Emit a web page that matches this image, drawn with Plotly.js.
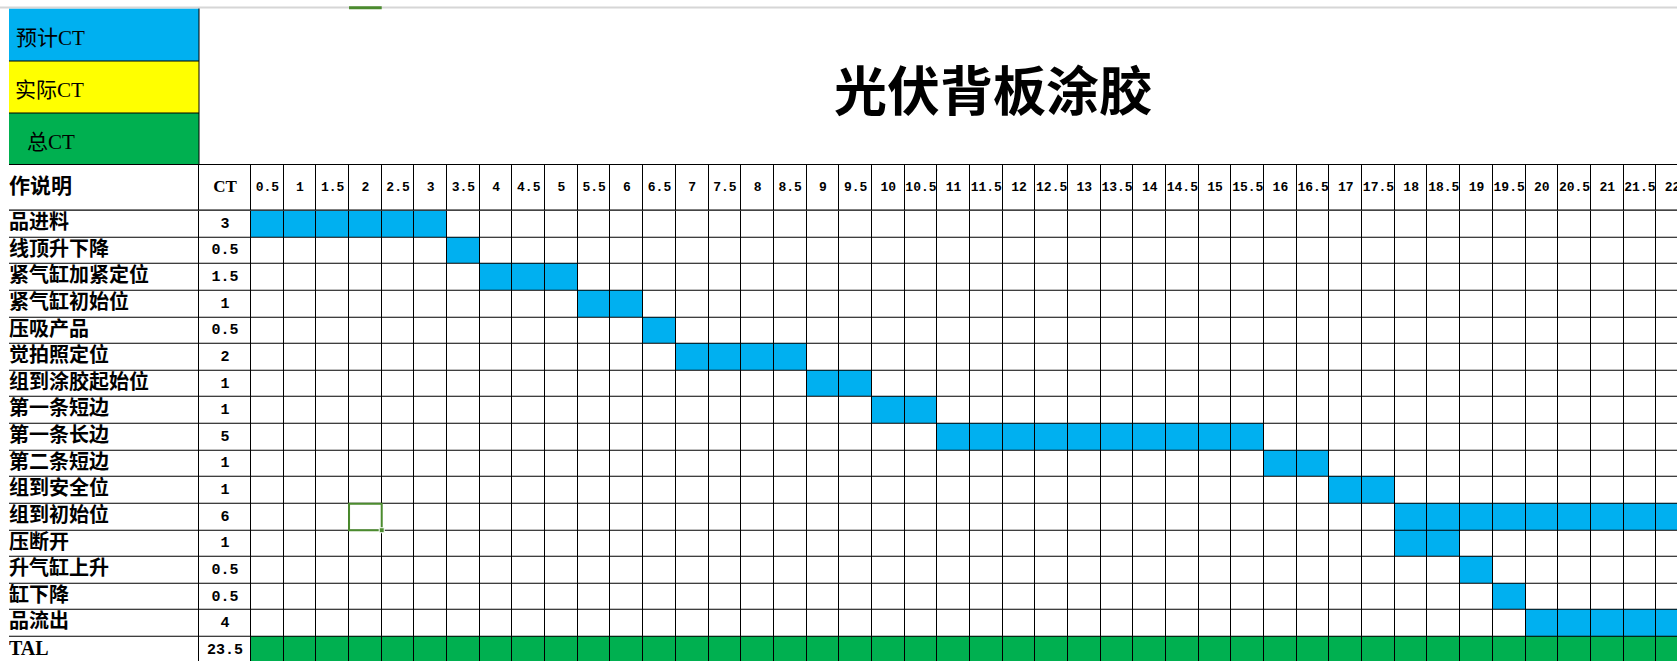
<!DOCTYPE html>
<html><head><meta charset="utf-8">
<script src="https://cdn.plot.ly/plotly-3.0.1.min.js"></script>
<style>html,body{margin:0;padding:0;background:#fff;overflow:hidden}</style>
</head><body><div id="chart" style="width:1677px;height:661px"></div>
<script>
// ---------------- data ----------------
const chartTitle = '光伏背板涂胶';
const legendLabels = ['预计CT', '实际CT', '总CT'];
const headerLabel = '作说明';
const ctHeader = 'CT';
const steps = ['品进料','线顶升下降','紧气缸加紧定位','紧气缸初始位','压吸产品','觉拍照定位','组到涂胶起始位','第一条短边','第一条长边','第二条短边','组到安全位','组到初始位','压断开','升气缸上升','缸下降','品流出'];
const stepCT = [3, 0.5, 1.5, 1, 0.5, 2, 1, 1, 5, 1, 1, 6, 1, 0.5, 0.5, 4];
const stepStart = [0, 3, 3.5, 5, 6, 6.5, 8.5, 9.5, 10.5, 15.5, 16.5, 17.5, 17.5, 18.5, 19, 19.5];
const totalLabel = 'TAL';
const totalCT = 23.5;
const timeLabels = ['0.5','1','1.5','2','2.5','3','3.5','4','4.5','5','5.5','6','6.5','7','7.5','8','8.5','9','9.5','10','10.5','11','11.5','12','12.5','13','13.5','14','14.5','15','15.5','16','16.5','17','17.5','18','18.5','19','19.5','20','20.5','21','21.5','22'];
const selectedRow = '组到初始位';
const selectedTime = '2';

// ---------------- styles ----------------
const BLUE = '#00B0F0', YELLOW = '#FFFF00', GREEN = '#00B050';
const W = 1677, H = 661;
const gridLeft = 251, labelLeft = 9, ctLeft = 199;
const headerTop = 164.5, bodyTop = 210.7, rowPx = 26.63, colPx = 32.68;
const CJK = 'Noto Sans CJK SC';
const NUM = 'Liberation Mono';

const rows = steps.concat([totalLabel]);
const rowCT = stepCT.concat([totalCT]);
const rowStart = stepStart.concat([0]);
const times = timeLabels.map(Number);
const xCenters = times.map(t => t - 0.25);
const eps = 1e-9;
const zBody = rows.map((r, i) => times.map(t => {
  const inside = (t - 0.5 >= rowStart[i] - eps) && (t <= rowStart[i] + rowCT[i] + eps);
  if (!inside) return 0;
  return r === totalLabel ? 2 : 1;
}));

const cs = [[0, '#ffffff'], [0.5, BLUE], [1, GREEN]];
function hm(extra) {
  return Object.assign({type: 'heatmap', colorscale: cs, zmin: 0, zmax: 2, showscale: false,
    xgap: 1, ygap: 1, hoverinfo: 'skip'}, extra);
}

const traces = [
  hm({x: xCenters, y: rows, z: zBody, xaxis: 'x', yaxis: 'y'}),
  hm({x: xCenters, y: [0], z: [times.map(() => 0)], xaxis: 'x', yaxis: 'y2'}),
  hm({x: [0], y: rows, z: rows.map(() => [0]), xaxis: 'x2', yaxis: 'y'}),
  hm({x: [0], y: rows, z: rows.map(() => [0]), xaxis: 'x3', yaxis: 'y'}),
  hm({x: [0], y: [0], z: [[0]], xaxis: 'x2', yaxis: 'y2'}),
  hm({x: [0], y: [0], z: [[0]], xaxis: 'x3', yaxis: 'y2'}),
  // step labels
  {type: 'scatter', mode: 'text', x: steps.map(() => -0.5), y: steps, text: steps,
   xaxis: 'x2', yaxis: 'y', textposition: 'middle right', cliponaxis: true, hoverinfo: 'skip',
   textfont: {family: CJK, size: 20, weight: 700, color: '#000'}},
  {type: 'scatter', mode: 'text', x: [-0.5], y: [totalLabel], text: [totalLabel],
   xaxis: 'x2', yaxis: 'y', textposition: 'middle right', cliponaxis: true, hoverinfo: 'skip',
   textfont: {family: 'Liberation Serif', size: 20, weight: 700, color: '#000'}},
  // CT values
  {type: 'scatter', mode: 'text', x: rows.map(() => 0), y: rows, text: rowCT.map(String),
   xaxis: 'x3', yaxis: 'y', textposition: 'middle center', cliponaxis: true, hoverinfo: 'skip',
   textfont: {family: NUM, size: 15, weight: 700, color: '#000'}},
  // header
  {type: 'scatter', mode: 'text', x: xCenters, y: times.map(() => 0), text: timeLabels,
   xaxis: 'x', yaxis: 'y2', textposition: 'middle center', cliponaxis: true, hoverinfo: 'skip',
   textfont: {family: NUM, size: 13, weight: 700, color: '#000'}},
  {type: 'scatter', mode: 'text', x: [-0.5], y: [0], text: [headerLabel],
   xaxis: 'x2', yaxis: 'y2', textposition: 'middle right', cliponaxis: true, hoverinfo: 'skip',
   textfont: {family: CJK, size: 21, weight: 700, color: '#000'}},
  {type: 'scatter', mode: 'text', x: [0], y: [0], text: [ctHeader],
   xaxis: 'x3', yaxis: 'y2', textposition: 'middle center', cliponaxis: true, hoverinfo: 'skip',
   textfont: {family: 'Liberation Serif', size: 17, weight: 700, color: '#000'}}
];

const hidden = {showgrid: false, zeroline: false, showticklabels: false, showline: false, ticks: '', fixedrange: true};
const px = v => v / W, py = v => 1 - v / H;
const nVisibleRows = (H - bodyTop) / rowPx;

const selIdx = rows.indexOf(selectedRow);
const selT = Number(selectedTime);
const SEL = '#4B8B2E';

const legendColors = [BLUE, YELLOW, GREEN];
const legendTops = [8.5, 61, 113];
const legendBottoms = [61, 113, headerTop];
const legendTextX = [14, 13, 25];

const shapes = [
  {type: 'line', xref: 'paper', yref: 'paper', x0: 0, x1: 1, y0: py(7.5), y1: py(7.5), line: {color: '#d6d6d6', width: 2}},
  {type: 'rect', xref: 'x', yref: 'paper', x0: selT - 0.5, x1: selT, y0: py(9.2), y1: py(6.3), fillcolor: SEL, line: {width: 0}},
];
legendColors.forEach((c, i) => shapes.push({type: 'rect', xref: 'paper', yref: 'paper', layer: 'below',
  x0: px(labelLeft), x1: px(ctLeft), y0: py(legendBottoms[i]), y1: py(legendTops[i]), fillcolor: c, line: {width: 0}}));
[61, 113].forEach(y => shapes.push({type: 'line', xref: 'paper', yref: 'paper', x0: px(labelLeft), x1: px(ctLeft), y0: py(y), y1: py(y), line: {color: '#000', width: 1}}));
shapes.push({type: 'line', xref: 'paper', yref: 'paper', x0: px(ctLeft), x1: px(ctLeft), y0: py(8.5), y1: py(headerTop), line: {color: '#000', width: 1}});
shapes.push({type: 'line', xref: 'paper', yref: 'paper', x0: px(labelLeft), x1: 1, y0: py(headerTop), y1: py(headerTop), line: {color: '#000', width: 1}});
// selected cell
shapes.push({type: 'rect', xref: 'x', yref: 'y', x0: selT - 0.5, x1: selT, y0: selIdx - 0.5, y1: selIdx + 0.5, line: {color: SEL, width: 2}});
shapes.push({type: 'rect', xref: 'x', yref: 'y', x0: selT - 2.5 / (2 * colPx), x1: selT + 2.5 / (2 * colPx),
  y0: selIdx + 0.5 - 2.5 / rowPx, y1: selIdx + 0.5 + 2.5 / rowPx, fillcolor: SEL, line: {color: '#fff', width: 1}});

const annotations = legendLabels.map((t, i) => ({
  text: t, xref: 'paper', yref: 'paper', x: px(legendTextX[i]), y: py((legendTops[i] + legendBottoms[i]) / 2 + 3),
  xanchor: 'left', yanchor: 'middle', showarrow: false,
  font: {family: 'Liberation Serif, ' + CJK, size: 21, color: '#000'}
}));

const layout = {
  width: W, height: H, margin: {l: 0, r: 0, t: 0, b: 0},
  paper_bgcolor: '#fff', plot_bgcolor: '#000', showlegend: false,
  title: {text: chartTitle, xref: 'paper', yref: 'paper', x: px(993), y: py(92), xanchor: 'center', yanchor: 'middle',
    font: {family: CJK, size: 53, weight: 700, color: '#000'}},
  xaxis: Object.assign({domain: [px(gridLeft), 1], range: [0, (W - gridLeft) / (2 * colPx)], anchor: 'y'}, hidden),
  xaxis2: Object.assign({domain: [px(labelLeft), px(ctLeft)], range: [-0.5, 0.5], anchor: 'y'}, hidden),
  xaxis3: Object.assign({domain: [px(ctLeft), px(gridLeft)], range: [-0.5, 0.5], anchor: 'y'}, hidden),
  yaxis: Object.assign({domain: [0, (H - bodyTop) / H], type: 'category', categoryorder: 'array', categoryarray: rows,
    range: [nVisibleRows - 0.5, -0.5], anchor: 'x'}, hidden),
  yaxis2: Object.assign({domain: [(H - bodyTop) / H, (H - headerTop) / H], range: [-0.5, 0.5], anchor: 'x'}, hidden),
  shapes: shapes,
  annotations: annotations
};

Plotly.newPlot('chart', traces, layout, {displayModeBar: false, staticPlot: true});
</script></body></html>
